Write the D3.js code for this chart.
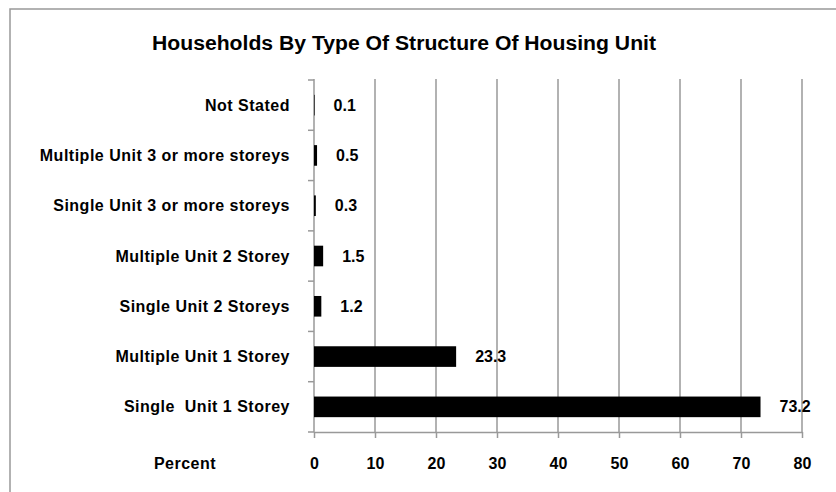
<!DOCTYPE html>
<html>
<head>
<meta charset="utf-8">
<script src="https://cdn.jsdelivr.net/npm/d3@7"></script>
<style>
  body { margin: 0; background: #fff; }
  text { font-family: "Liberation Sans", Arial, sans-serif; font-weight: bold; fill: #000; }
</style>
</head>
<body>
<div id="chart"></div>
<script>
// categories listed bottom -> top, as in the picture
const categories = [
    "Single  Unit 1 Storey",
    "Multiple Unit 1 Storey",
    "Single Unit 2 Storeys",
    "Multiple Unit 2 Storey",
    "Single Unit 3 or more storeys",
    "Multiple Unit 3 or more storeys",
    "Not Stated"
];
const percents = [73.2, 23.3, 1.2, 1.5, 0.3, 0.5, 0.1];
const xTicks = [0, 10, 20, 30, 40, 50, 60, 70, 80];
const title = "Households By Type Of Structure Of Housing Unit";
const xLabel = "Percent";

const width = 836, height = 492;
const plot = { left: 314, right: 802, top: 80, bottom: 432 };

const svg = d3.select("#chart").append("svg")
    .attr("width", width)
    .attr("height", height);

// outer frame (cut off on right and bottom like the source)
svg.append("rect")
    .attr("x", 10).attr("y", 9)
    .attr("width", 840).attr("height", 500)
    .attr("fill", "none")
    .attr("stroke", "#999")
    .attr("stroke-width", 1.5);

// title is squeezed a little, like the original condensed heading
svg.append("text")
    .attr("x", 152).attr("y", 50)
    .attr("font-size", "20px")
    .attr("textLength", 504)
    .attr("lengthAdjust", "spacingAndGlyphs")
    .text(title);

const x = d3.scaleLinear().domain([0, 80]).range([plot.left, plot.right]);
// outer padding half of inner so bands line up with the tick boundaries
const y = d3.scaleBand()
    .domain(categories.slice().reverse())
    .range([plot.top, plot.bottom])
    .paddingInner(0.59)
    .paddingOuter(0.295);

// vertical gridlines
svg.append("g")
    .selectAll("line")
    .data(xTicks.slice(1))
    .enter()
    .append("line")
    .attr("x1", d => x(d)).attr("x2", d => x(d))
    .attr("y1", plot.top - 1).attr("y2", plot.bottom)
    .attr("stroke", "#999")
    .attr("stroke-width", 1.5);

// bottom axis
const xAxis = svg.append("g")
    .attr("transform", `translate(0,${plot.bottom})`)
    .call(d3.axisBottom(x).tickValues(xTicks).tickSize(6).tickSizeOuter(0).tickPadding(20));
xAxis.select(".domain").attr("stroke", "#999").attr("stroke-width", 1.5);
xAxis.selectAll(".tick line").attr("stroke", "#999").attr("stroke-width", 1.5);
xAxis.selectAll(".tick text")
    .attr("font-size", "16px")
    .attr("font-family", "Liberation Sans, Arial, sans-serif")
    .attr("font-weight", "bold")
    .attr("fill", "#000");

// left axis line with ticks between categories
const boundaries = d3.range(categories.length + 1).map(i => plot.top + i * y.step());
svg.append("line")
    .attr("x1", plot.left).attr("x2", plot.left)
    .attr("y1", plot.top - 1).attr("y2", plot.bottom)
    .attr("stroke", "#999").attr("stroke-width", 1.5);
svg.append("g")
    .selectAll("line")
    .data(boundaries)
    .enter()
    .append("line")
    .attr("x1", plot.left - 6).attr("x2", plot.left)
    .attr("y1", d => d).attr("y2", d => d)
    .attr("stroke", "#999").attr("stroke-width", 1.5);

// category labels
svg.append("g")
    .selectAll("text")
    .data(categories)
    .enter()
    .append("text")
    .attr("x", plot.left - 24)
    .attr("y", d => y(d) + y.bandwidth() / 2)
    .attr("dy", "0.35em")
    .attr("text-anchor", "end")
    .attr("font-size", "16px")
    .attr("letter-spacing", "0.5px")
    .text(d => d.replace("  ", "\u00a0 "));

// bars
svg.append("g")
    .selectAll("rect")
    .data(categories)
    .enter()
    .append("rect")
    .attr("x", x(0))
    .attr("y", d => y(d))
    .attr("width", (d, i) => x(percents[i]) - x(0))
    .attr("height", y.bandwidth())
    .attr("fill", "#000");

// value labels
svg.append("g")
    .selectAll("text")
    .data(categories)
    .enter()
    .append("text")
    .attr("x", (d, i) => x(percents[i]) + 19)
    .attr("y", d => y(d) + y.bandwidth() / 2)
    .attr("dy", "0.35em")
    .attr("font-size", "16px")
    .text((d, i) => percents[i]);

svg.append("text")
    .attr("x", 185).attr("y", 469)
    .attr("text-anchor", "middle")
    .attr("font-size", "16px")
    .attr("letter-spacing", "0.5px")
    .text(xLabel);
</script>
</body>
</html>
